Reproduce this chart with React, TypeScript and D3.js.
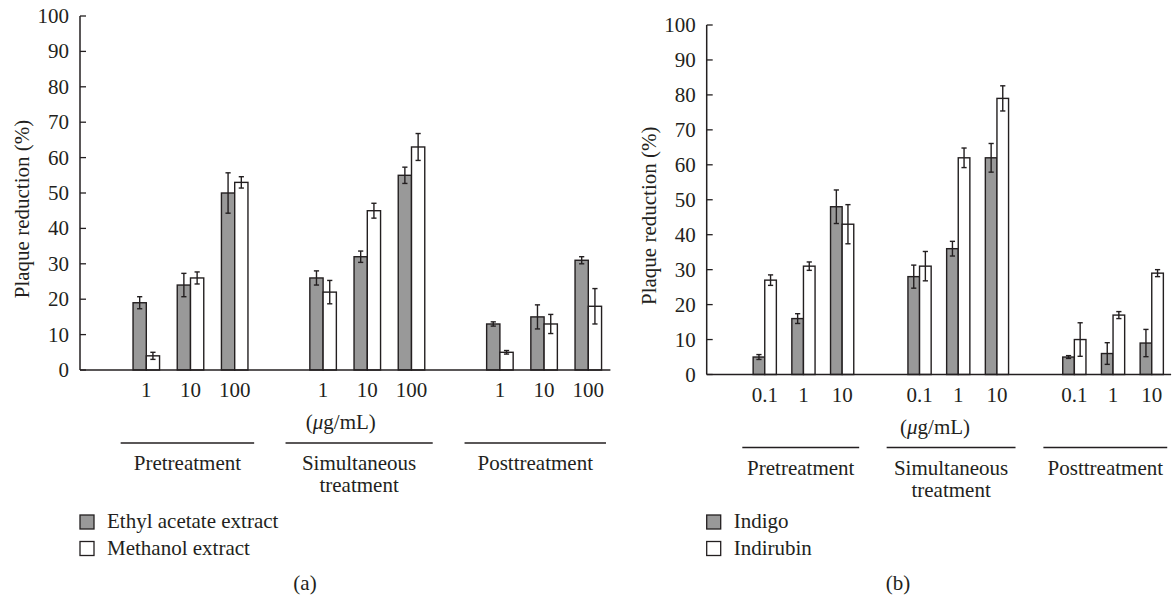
import React from "react";
import { scaleLinear, range } from "d3";

// shared category structure
const treatments = ["Pretreatment", "Simultaneous treatment", "Posttreatment"];
const treatmentLines = [["Pretreatment"], ["Simultaneous", "treatment"], ["Posttreatment"]];
const yTicks = [0, 10, 20, 30, 40, 50, 60, 70, 80, 90, 100];

// panel (a)
const dosesA = ["1", "10", "100"];
const ethylAcetate = [19, 24, 50, 26, 32, 55, 13, 15, 31];
const ethylAcetateErr = [1.7, 3.3, 5.7, 2, 1.6, 2.3, 0.6, 3.4, 1];
const methanol = [4, 26, 53, 22, 45, 63, 5, 13, 18];
const methanolErr = [1, 1.7, 1.6, 3.3, 2.1, 3.8, 0.5, 2.7, 5];

// panel (b)
const dosesB = ["0.1", "1", "10"];
const indigo = [5, 16, 48, 28, 36, 62, 5, 6, 9];
const indigoErr = [0.7, 1.4, 4.8, 3.3, 2.1, 4.1, 0.4, 3.1, 3.9];
const indirubin = [27, 31, 43, 31, 62, 79, 10, 17, 29];
const indirubinErr = [1.5, 1.2, 5.6, 4.2, 2.8, 3.6, 4.8, 1, 1];

const FONT = "Liberation Serif";
const INK = "#231f20";
const GRAY = "#999999";

// slot index of each bar pair (an empty slot separates treatment groups)
const slotOf = (i: number) => Math.floor(i / 3) * 4 + (i % 3) + 1;
// underline spans of the treatment labels, in slot units
const lineSpans = [
  [0.42, 3.44],
  [4.15, 7.48],
  [8.2, 11.4],
];

type PanelProps = {
  x0: number;
  x1: number;
  yTop: number;
  yBase: number;
  doses: string[];
  s1: number[];
  e1: number[];
  s2: number[];
  e2: number[];
  names: string[];
  tag: string;
  tagX: number;
};

function Panel({ x0, x1, yTop, yBase, doses, s1, e1, s2, e2, names, tag, tagX }: PanelProps) {
  const x = scaleLinear().domain([-0.5, 11.5]).range([x0, x1]);
  const y = scaleLinear().domain([0, 100]).range([yBase, yTop]);
  const step = x(1) - x(0);
  const bw = step * 0.3;
  const cap = 2.6;
  const fs = 21;

  const bars = (vals: number[], errs: number[], fill: string, side: number) =>
    vals.map((v, i) => {
      const cx = x(slotOf(i));
      const left = side < 0 ? cx - bw : cx;
      const mid = left + bw / 2;
      return (
        <g key={i}>
          <rect x={left} y={y(v)} width={bw} height={y(0) - y(v)} fill={fill} stroke={INK} strokeWidth={1.4} />
          <line x1={mid} x2={mid} y1={y(v + errs[i])} y2={y(v - errs[i])} stroke={INK} strokeWidth={1.4} />
          <line x1={mid - cap} x2={mid + cap} y1={y(v + errs[i])} y2={y(v + errs[i])} stroke={INK} strokeWidth={1.4} />
          <line x1={mid - cap} x2={mid + cap} y1={y(v - errs[i])} y2={y(v - errs[i])} stroke={INK} strokeWidth={1.4} />
        </g>
      );
    });

  const lineY = yBase + 73;
  return (
    <g style={{ fontFamily: FONT, fontSize: fs }} fill={INK}>
      {/* y axis */}
      <line x1={x0} x2={x0} y1={y(100)} y2={y(0)} stroke={INK} strokeWidth={1.5} />
      {yTicks.map((t) => (
        <g key={t}>
          <line x1={x0} x2={x0 + 6} y1={y(t)} y2={y(t)} stroke={INK} strokeWidth={1.3} />
          <text x={x0 - 11} y={y(t) + 7} textAnchor="end">
            {t}
          </text>
        </g>
      ))}
      <text transform={`translate(${x0 - 51},${(y(100) + y(0)) / 2 + 16}) rotate(-90)`} textAnchor="middle">
        Plaque reduction (%)
      </text>

      {bars(s1, e1, GRAY, -1)}
      {bars(s2, e2, "#ffffff", 1)}
      <line x1={x0} x2={x1} y1={y(0)} y2={y(0)} stroke={INK} strokeWidth={1.5} />

      {/* dose labels */}
      {range(9).map((i) => (
        <text key={i} x={x(slotOf(i))} y={yBase + 27} textAnchor="middle">
          {doses[i % 3]}
        </text>
      ))}
      <text x={x(5.4)} y={yBase + 59} textAnchor="middle">
        (<tspan fontStyle="italic">μ</tspan>g/mL)
      </text>

      {treatments.map((t, g) => {
        const a = x(lineSpans[g][0]);
        const b = x(lineSpans[g][1]);
        return (
          <g key={t}>
            <line x1={a} x2={b} y1={lineY} y2={lineY} stroke={INK} strokeWidth={1.3} />
            {treatmentLines[g].map((ln, k) => (
              <text key={k} x={(a + b) / 2} y={lineY + 27 + k * 22} textAnchor="middle">
                {ln}
              </text>
            ))}
          </g>
        );
      })}

      {/* legend */}
      {names.map((n, k) => (
        <g key={n}>
          <rect x={x0} y={515 + k * 26.5} width={14} height={14} fill={k === 0 ? GRAY : "#ffffff"} stroke={INK} strokeWidth={1.3} />
          <text x={x0 + 27} y={528 + k * 26.5}>
            {n}
          </text>
        </g>
      ))}
      <text x={tagX} y={590} textAnchor="middle">
        {tag}
      </text>
    </g>
  );
}

export default function App() {
  return (
    <svg width={1172} height={600} style={{ position: "absolute", left: 0, top: 0, background: "#fff" }}>
      <Panel
        x0={80}
        x1={610.4}
        yTop={16}
        yBase={370}
        doses={dosesA}
        s1={ethylAcetate}
        e1={ethylAcetateErr}
        s2={methanol}
        e2={methanolErr}
        names={["Ethyl acetate extract", "Methanol extract"]}
        tag="(a)"
        tagX={305}
      />
      <Panel
        x0={706.7}
        x1={1171.1}
        yTop={25}
        yBase={374.5}
        doses={dosesB}
        s1={indigo}
        e1={indigoErr}
        s2={indirubin}
        e2={indirubinErr}
        names={["Indigo", "Indirubin"]}
        tag="(b)"
        tagX={898}
      />
    </svg>
  );
}
